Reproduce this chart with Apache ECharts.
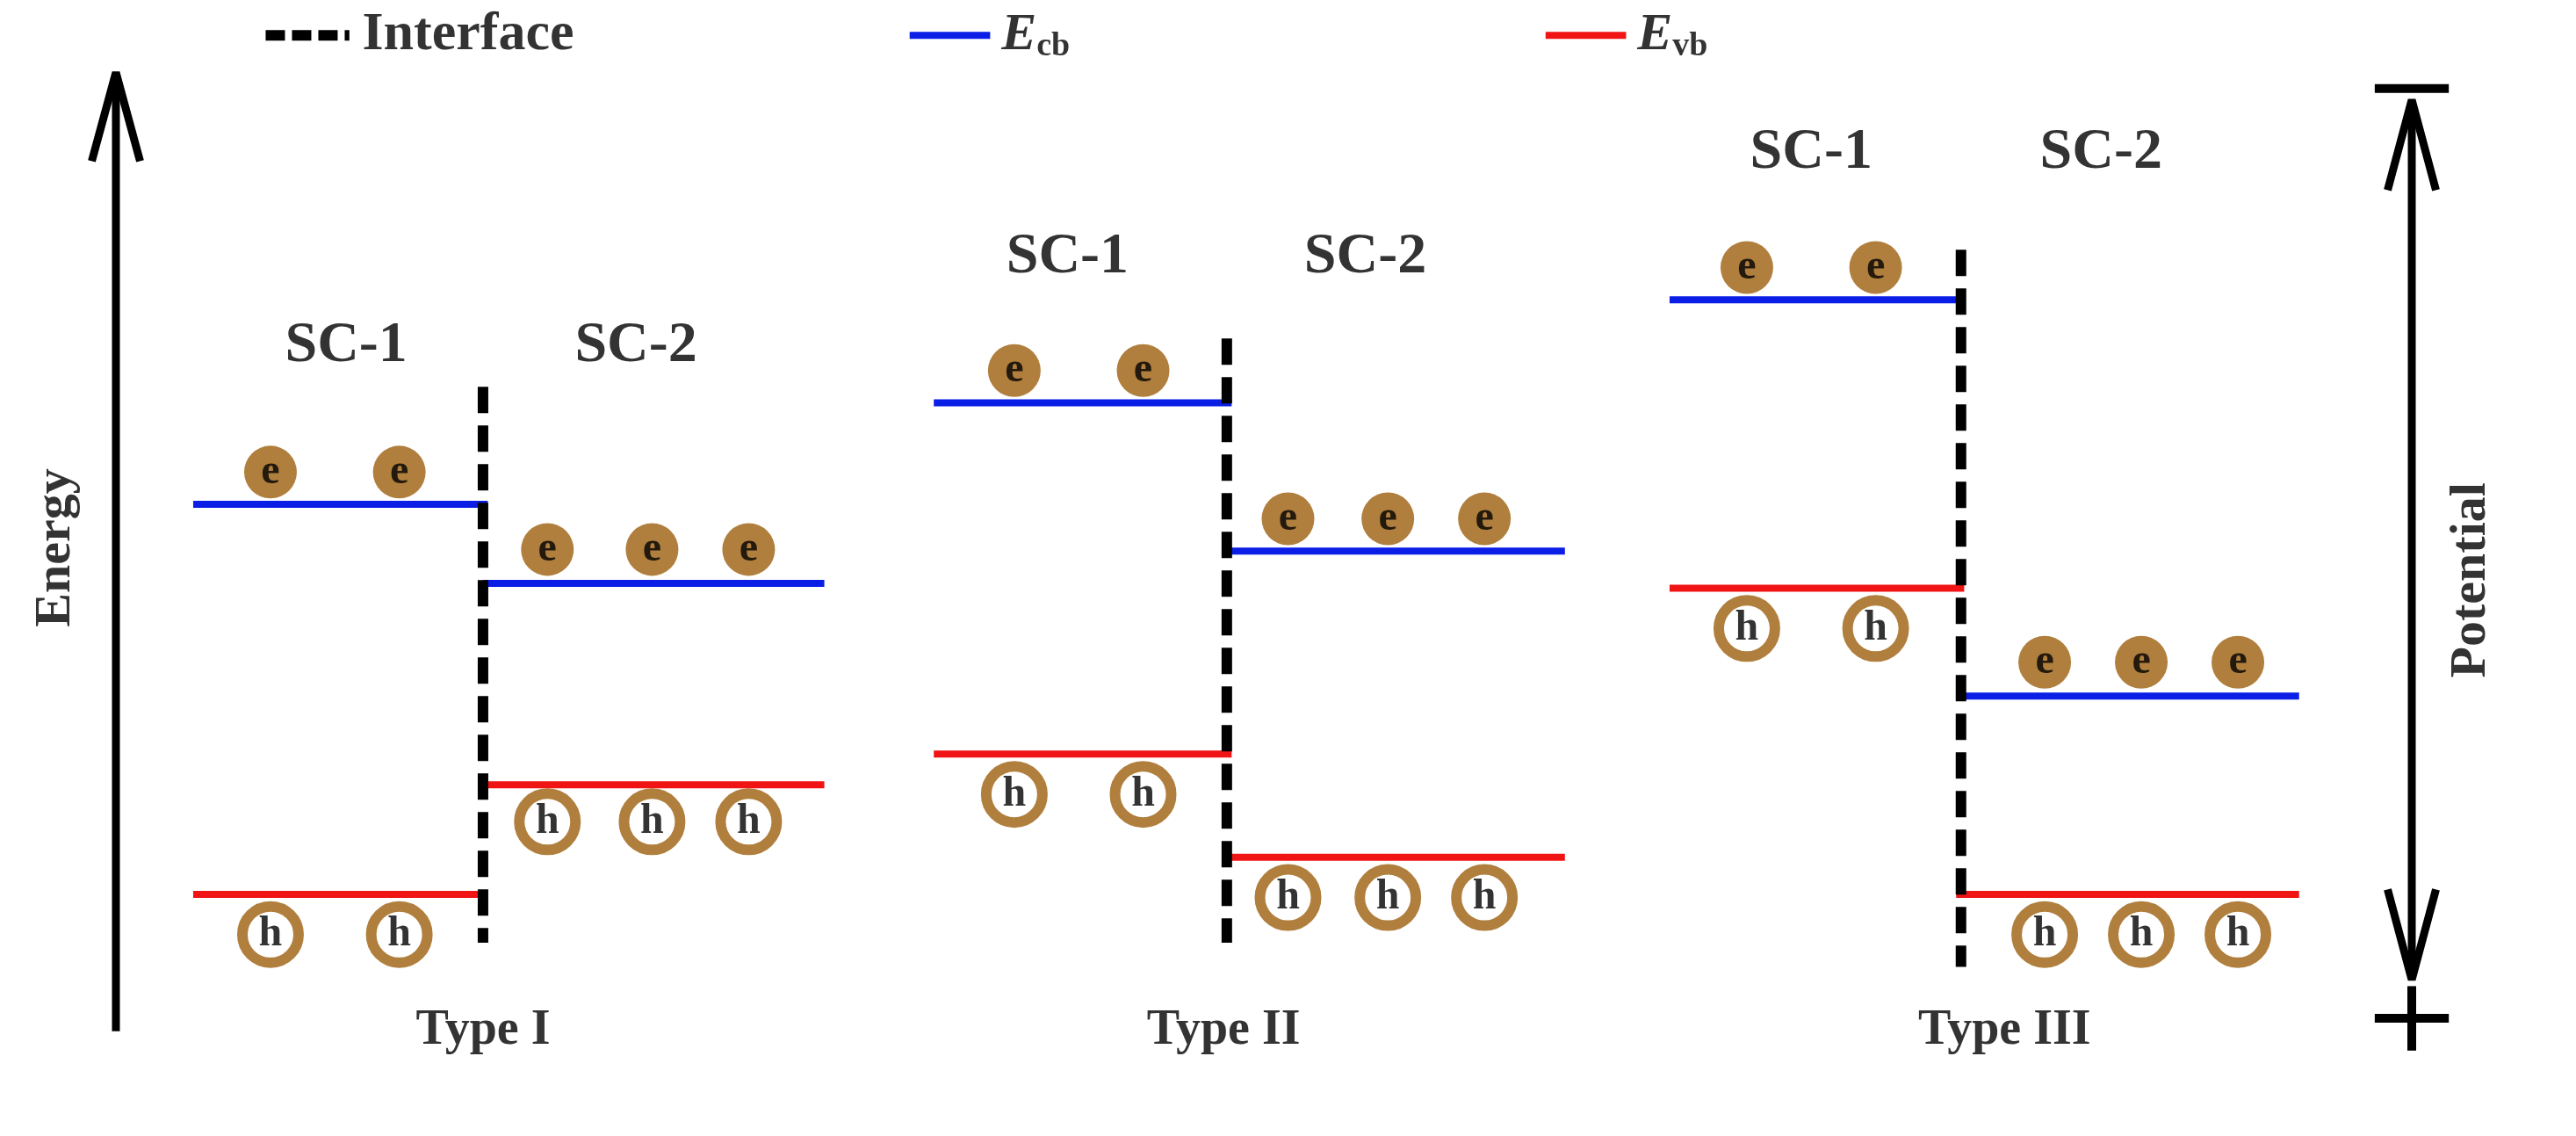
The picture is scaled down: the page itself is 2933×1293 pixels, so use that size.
<!DOCTYPE html>
<html><head><meta charset="utf-8">
<script src="https://cdn.jsdelivr.net/npm/echarts@6/dist/echarts.min.js"></script>
<style>html,body{margin:0;background:#fff}#c{width:2933px;height:1293px}</style>
</head><body><div id="c"></div>
<script>
// Diagram coordinates in a 1600 x 705 reference frame (y downward)
const types = ['Type I','Type II','Type III'];
const typeLabelPos = [[300,640],[760,640],[1245,640]];
const scLabels = [[[215,215],[395,215]],[[663,160],[848,160]],[[1125,95],[1305,95]]];
const interfaces = [[300,240,585],[762,210,585],[1218,155,600]];
// [x1,x2,y]
const cbLevels = [[120,303,313],[300,512,362],[580,765,250],[760,972,342],[1037,1220,186],[1215,1428,432]];
const vbLevels = [[120,303,555],[300,512,487],[580,765,468],[760,972,532],[1037,1220,365],[1215,1428,555]];
const electrons = [[168,293],[248,293],[340,341],[405,341],[465,341],[630,230],[710,230],[800,322],[862,322],[922,322],[1085,166],[1165,166],[1270,411],[1330,411],[1390,411]];
const holes = [[168,580],[248,580],[340,510],[405,510],[465,510],[630,493],[710,493],[800,557],[862,557],[922,557],[1085,390],[1165,390],[1270,580],[1330,580],[1390,580]];

const F = 'Liberation Serif';
const series = [];
function seg(pts, color, width, type){
  series.push({type:'line', data:pts, symbol:'none', silent:true, animation:false,
    lineStyle:{color, width, type:type||'solid', cap:'butt'}});
}
function txt(x,y,t,size,extra){
  series.push({type:'scatter', data:[[x,y]], symbolSize:0, silent:true, animation:false,
    label:Object.assign({show:true, position:'inside', formatter:t, color:'#000', fontFamily:F, fontWeight:'bold', fontSize:size}, extra||{})});
}
cbLevels.forEach(l=>seg([[l[0],l[2]],[l[1],l[2]]],'#0a1ee6',8));
vbLevels.forEach(l=>seg([[l[0],l[2]],[l[1],l[2]]],'#f01414',8));
interfaces.forEach(i=>seg([[i[0],i[1]],[i[0],i[2]]],'#000',12,[30,14]));
// energy arrow
seg([[72,640],[72,48]],'#000',9);
seg([[57,100],[72,45],[87,100]],'#000',9);
// potential double arrow
seg([[1498,65],[1498,605]],'#000',9);
seg([[1483,118],[1498,62],[1513,118]],'#000',9);
seg([[1483,552],[1498,608],[1513,552]],'#000',9);
seg([[1475,55],[1521,55]],'#000',10);
seg([[1475,632],[1521,632]],'#000',10);
seg([[1498,612],[1498,652]],'#000',10);
// legend
seg([[165,22],[217,22]],'#000',12,[22,8]);
seg([[565,22],[615,22]],'#0a1ee6',8);
seg([[960,22],[1010,22]],'#f01414',8);
const rich = {i:{fontStyle:'italic',fontWeight:'bold',fontFamily:F,fontSize:60,color:'#000'},s:{fontFamily:F,fontWeight:'bold',fontSize:38,color:'#000',padding:[26,0,0,0]}};
txt(225,22,'Interface',62,{position:'right',distance:0});
txt(622,22,'{i|E}{s|cb}',60,{position:'right',distance:0,rich});
txt(1017,22,'{i|E}{s|vb}',60,{position:'right',distance:0,rich});
txt(35,340,'Energy',58,{rotate:90});
txt(1535,360,'Potential',58,{rotate:90});
types.forEach((t,i)=>txt(typeLabelPos[i][0],typeLabelPos[i][1],t,56));
scLabels.forEach(p=>{txt(p[0][0],p[0][1],'SC-1',66);txt(p[1][0],p[1][1],'SC-2',66);});
series.push({type:'scatter', data:electrons, symbol:'circle', symbolSize:60, silent:true, animation:false,
  itemStyle:{color:'#9c5f0c'}, label:{show:true,position:'inside',formatter:'e',color:'#000',fontFamily:F,fontWeight:'bold',fontSize:48}});
series.push({type:'scatter', data:holes, symbol:'circle', symbolSize:64, silent:true, animation:false,
  itemStyle:{color:'#fff',borderColor:'#9c5f0c',borderWidth:12}, label:{show:true,position:'inside',formatter:'h',color:'#000',fontFamily:F,fontWeight:'bold',fontSize:48}});

const chart = echarts.init(document.getElementById('c'));
chart.setOption({
  animation:false,
  grid:{left:0,right:0,top:0,bottom:0},
  xAxis:{type:'value',min:0,max:1600,show:false},
  yAxis:{type:'value',min:0,max:705,inverse:true,show:false},
  series
});
</script></body></html>
